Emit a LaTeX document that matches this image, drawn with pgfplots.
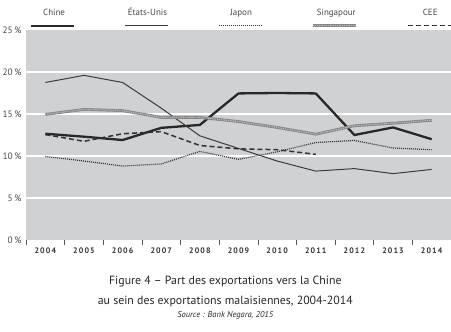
\documentclass[border=0pt]{standalone}
\usepackage{fontspec}
\setmainfont{PT Sans}
\newfontfamily\tickfont[LetterSpace=14]{PT Sans}
\usepackage{pgfplots}
\pgfplotsset{compat=1.18}
\definecolor{bg}{RGB}{208,209,211}
\definecolor{chine}{RGB}{40,40,40}
\definecolor{usa}{RGB}{60,60,60}
\definecolor{japon}{RGB}{55,55,55}
\definecolor{sing}{RGB}{135,135,135}
\definecolor{singl}{RGB}{190,190,190}
\definecolor{cee}{RGB}{50,50,50}
\definecolor{txt}{RGB}{70,70,70}
\begin{document}
\begin{tikzpicture}
\useasboundingbox (0,0) rectangle (451bp,332bp);
\begin{axis}[
  at={(26bp,92bp)}, anchor=south west,
  scale only axis, width=425bp, height=210bp,
  xmin=-0.5, xmax=10.5, ymin=0, ymax=25,
  clip=false,
  axis background/.style={fill=bg},
  axis line style={draw=none},
  xtick={0,...,10},
  xticklabels={2004,2005,2006,2007,2008,2009,2010,2011,2012,2013,2014},
  major x tick style={draw=none},
  minor xtick={-0.5,0.5,...,10.5},
  minor x tick style={draw=black!65, line width=0.6bp},
  minor tick length=5bp, major tick length=0pt, tick align=outside,
  xtick pos=bottom, ytick pos=left,
  ytick={5,10,15,20},
  yticklabels={5\,\%,10\,\%,15\,\%,20\,\%},
  extra y ticks={0,25},
  extra y tick labels={0\,\%,25\,\%},
  extra y tick style={grid=none},
  ymajorgrids, grid style={white, line width=1.2bp},
  y tick style={draw=none},
  xticklabel style={font=\tickfont\bfseries\fontsize{8}{9}\selectfont, text=black!80, yshift=-4bp},
  yticklabel style={font=\fontsize{9.3}{11}\selectfont, text=txt, xshift=-1bp},
  legend columns=5,
  legend style={draw=none, fill=none, at={(0.5,1.05)}, anchor=south, xshift=2.5bp,
    font=\fontsize{9}{11}\selectfont, text=txt,
    nodes={inner sep=0pt},
    /tikz/every odd column/.style={column sep=0pt},
    /tikz/every even column/.style={column sep=22.4bp}},
  legend image code/.code={\path (0,0); \draw[#1,overlay] (13.5bp,-13bp) -- (56.5bp,-13bp);},
  no markers,
]
\addplot[chine, line width=2.3bp] coordinates {(0,12.65) (1,12.3) (2,11.9) (3,13.35) (4,13.7) (5,17.45) (6,17.5) (7,17.45) (8,12.5) (9,13.4) (10,12.0)};
\addlegendentry{\makebox[70bp]{Chine}}
\addplot[usa, line width=1bp] coordinates {(0,18.75) (1,19.6) (2,18.75) (3,15.7) (4,12.4) (5,10.9) (6,9.4) (7,8.2) (8,8.5) (9,7.9) (10,8.4)};
\addlegendentry{\makebox[70bp]{États-Unis}}
\addplot[japon, line width=1.2bp, dash pattern=on 1bp off 1bp] coordinates {(0,9.95) (1,9.4) (2,8.8) (3,9.05) (4,10.55) (5,9.6) (6,10.5) (7,11.6) (8,11.85) (9,10.95) (10,10.75)};
\addlegendentry{\makebox[70bp]{Japon}}
\addplot[sing, line width=2.8bp, postaction={draw=singl, line width=1.1bp, dash pattern=on 0.9bp off 0.9bp}] coordinates {(0,14.95) (1,15.55) (2,15.4) (3,14.6) (4,14.6) (5,14.1) (6,13.4) (7,12.6) (8,13.6) (9,13.9) (10,14.25)};
\addlegendentry{\makebox[70bp]{Singapour}}
\addplot[cee, line width=1.5bp, dash pattern=on 5bp off 3bp] coordinates {(0,12.55) (1,11.75) (2,12.65) (3,12.9) (4,11.25) (5,10.85) (6,10.75) (7,10.2)};
\addlegendentry{\makebox[70bp]{CEE}}
\node[font=\fontsize{11.9}{14}\selectfont, text=black!85] at ([yshift=-42bp]rel axis cs:0.469,0) {Figure 4 – Part des exportations vers la Chine};
\node[font=\fontsize{11.9}{14}\selectfont, text=black!85] at ([yshift=-61bp]rel axis cs:0.469,0) {au sein des exportations malaisiennes, 2004-2014};
\node[font=\itshape\fontsize{8.5}{10}\selectfont, text=black!85] at ([yshift=-75.5bp]rel axis cs:0.469,0) {Source : Bank Negara, 2015};
\end{axis}
\end{tikzpicture}
\end{document}
